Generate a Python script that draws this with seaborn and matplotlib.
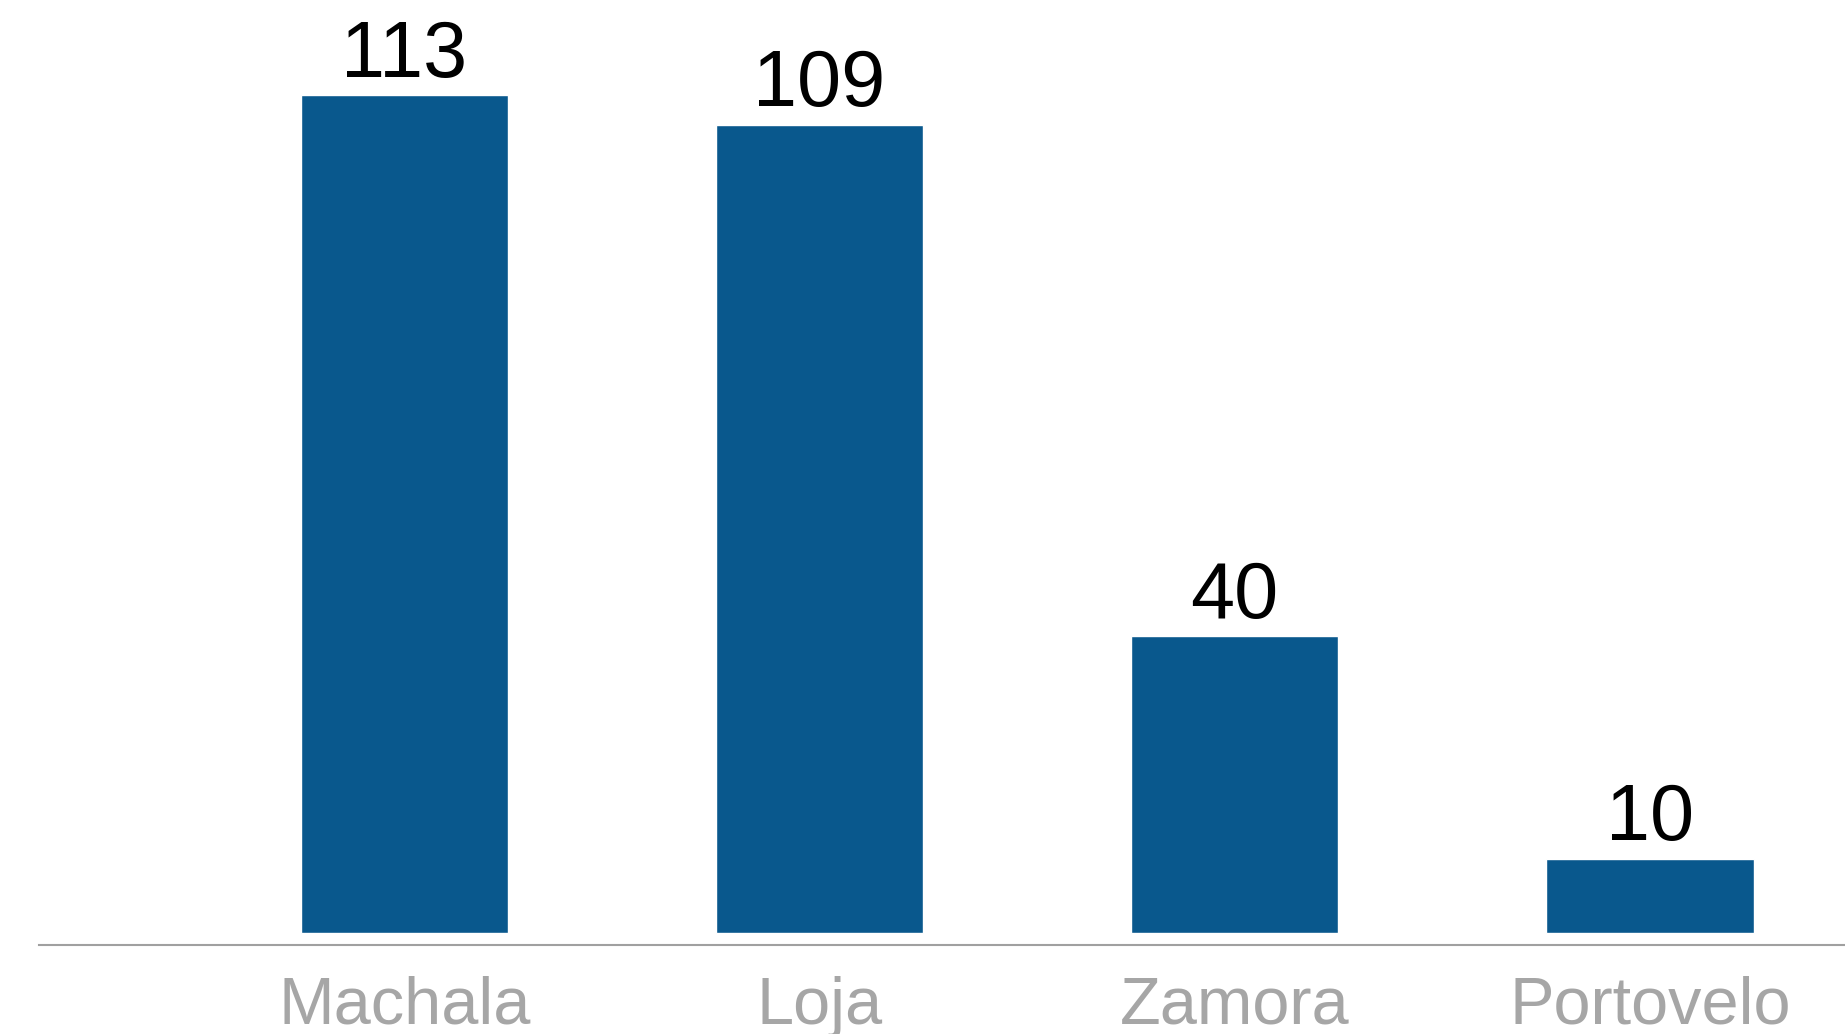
import matplotlib
matplotlib.use("Agg")
import matplotlib.pyplot as plt
import seaborn as sns
import pandas as pd

# datos
ciudades = ["Machala", "Loja", "Zamora", "Portovelo"]
valores = [113, 109, 40, 10]

df = pd.DataFrame({"ciudad": ciudades, "valor": valores})

sns.set_style("white")
plt.rcParams["font.family"] = ["Liberation Sans", "DejaVu Sans"]

fig = plt.figure(figsize=(18.45, 10.34), dpi=100)
ax = fig.add_axes([39 / 1845, 1 - 945 / 1034, 1 - 39 / 1845, 945 / 1034])

sns.barplot(data=df, x="ciudad", y="valor", color="#09588D", width=0.5,
            saturation=1, ax=ax)

# etiquetas de valor sobre las barras
for cont in ax.containers:
    ax.bar_label(cont, fontsize=57, color="black", padding=1)

ax.set_xlim(-0.88, 3.47)
ax.set_ylim(-1.62, 125.8)
ax.set_xlabel("")
ax.set_ylabel("")
ax.set_yticks([])
ax.tick_params(axis="x", length=0, pad=22, labelsize=48, labelcolor="#a6a6a6")

for s in ["top", "right", "left"]:
    ax.spines[s].set_visible(False)
ax.spines["bottom"].set_color("#a0a0a0")
ax.spines["bottom"].set_linewidth(1.5)

fig.savefig("out.png", dpi=100)
